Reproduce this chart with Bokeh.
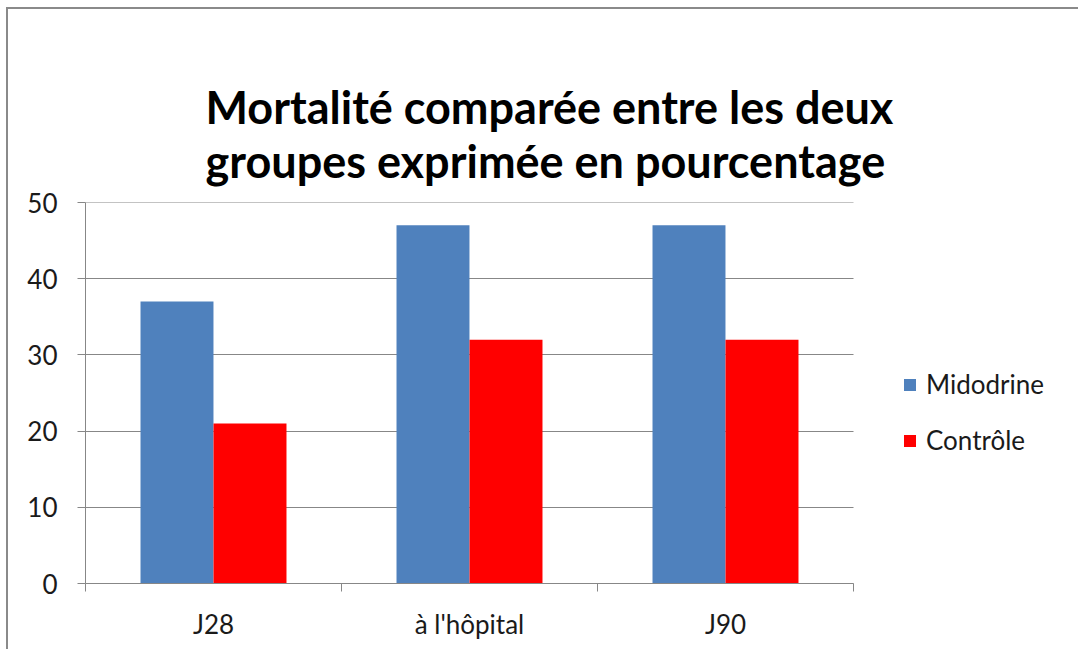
from bokeh.plotting import figure
from bokeh.models import (ColumnDataSource, Range1d, LinearAxis, FixedTicker, Legend, LegendItem, Title)
from bokeh.transform import dodge
from bokeh.embed import file_html
from bokeh.resources import INLINE

categories = ["J28", "à l'hôpital", "J90"]
midodrine = [37, 47, 47]
controle = [21, 32, 32]
series_names = ["Midodrine", "Contrôle"]
y_ticks = [0, 10, 20, 30, 40, 50]
title_lines = ["Mortalité comparée entre les deux", "groupes exprimée en pourcentage"]

FONT = "Lato"
GRAY = "#878787"
TXT = "#1a1a1a"

CAT_W = 768
FRAME_W = 985
n = len(categories)
positions = [i + 0.5 for i in range(n)]

src = ColumnDataSource(dict(pos=positions, cat=categories, mid=midodrine, ctl=controle))

p = figure(width=1072, height=642, x_range=Range1d(0, n * FRAME_W / CAT_W), y_range=Range1d(0, 50),
           output_backend="svg", toolbar_location=None, x_axis_location=None, y_axis_location=None,
           min_border_left=77, min_border_right=1072 - 77 - FRAME_W, min_border_top=193,
           min_border_bottom=68)
p.styles = {"border-left": "2px solid #8a8a8a", "border-top": "2px solid #8a8a8a",
            "margin-left": "6px", "margin-top": "7px"}
p.outline_line_color = None
p.background_fill_color = "white"
p.border_fill_color = "white"

r1 = p.vbar(x=dodge("pos", -0.1426), top="mid", width=0.285, source=src,
            fill_color="#4F81BD", line_color=None)
r2 = p.vbar(x=dodge("pos", 0.1426), top="ctl", width=0.285, source=src,
            fill_color="#FF0000", line_color=None)

p.xgrid.visible = False
p.ygrid.visible = False

# grid lines over the category area only: inward ticks of an unlabelled axis drawn under the bars
ygrid_axis = LinearAxis(ticker=FixedTicker(ticks=y_ticks))
ygrid_axis.level = "underlay"
ygrid_axis.axis_line_color = None
ygrid_axis.major_tick_line_color = GRAY
ygrid_axis.major_tick_out = 0
ygrid_axis.major_tick_in = CAT_W
ygrid_axis.minor_tick_line_color = None
ygrid_axis.major_label_text_font_size = "0px"
ygrid_axis.major_label_standoff = 0
p.add_layout(ygrid_axis, "left")

yax = LinearAxis(ticker=FixedTicker(ticks=y_ticks))
yax.axis_line_color = GRAY
yax.major_tick_line_color = GRAY
yax.major_tick_out = 8
yax.major_tick_in = 0
yax.minor_tick_line_color = None
yax.major_label_text_font = FONT
yax.major_label_text_font_size = "26px"
yax.major_label_text_color = TXT
yax.major_label_standoff = 20
p.add_layout(yax, "left")

xb = LinearAxis(ticker=FixedTicker(ticks=list(range(n + 1))), bounds=(0, n))
xb.axis_line_color = GRAY
xb.major_tick_line_color = GRAY
xb.major_tick_out = 8
xb.major_tick_in = 0
xb.minor_tick_line_color = None
xb.major_label_text_font_size = "0px"
xb.major_label_standoff = 0
p.add_layout(xb, "below")

xc = LinearAxis(ticker=FixedTicker(ticks=positions))
xc.major_label_overrides = {pos: cat for pos, cat in zip(positions, categories)}
xc.axis_line_color = None
xc.major_tick_line_color = None
xc.minor_tick_line_color = None
xc.major_label_text_font = FONT
xc.major_label_text_font_size = "26px"
xc.major_label_text_color = TXT
xc.major_label_standoff = 10
p.add_layout(xc, "below")

t = Title(text="\n".join(title_lines), align="left", offset=120, text_font=FONT,
          text_font_size="45px", text_font_style="bold", text_color="black",
          text_line_height=1.0, standoff=30)
p.add_layout(t, "above")

legend = Legend(items=[LegendItem(label=series_names[0], renderers=[r1]),
                       LegendItem(label=series_names[1], renderers=[r2])],
                location=(CAT_W + 49, 127), orientation="vertical")
legend.border_line_color = None
legend.background_fill_alpha = 0
legend.padding = 0
legend.margin = 0
legend.glyph_width = 15
legend.glyph_height = 15
legend.label_standoff = 9
legend.spacing = 24
legend.label_text_font = FONT
legend.label_text_font_size = "26px"
legend.label_text_color = TXT
p.add_layout(legend, "center")

open("out.html", "w").write(file_html(p, INLINE))
